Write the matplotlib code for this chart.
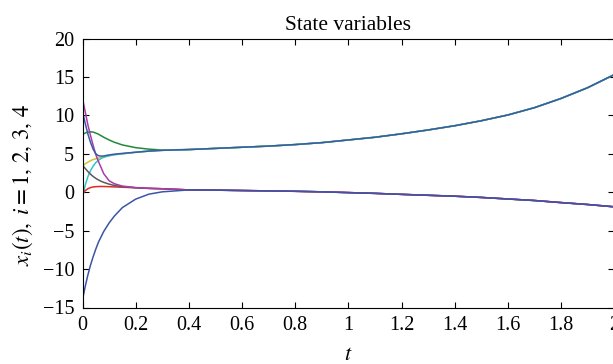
import numpy as np
import matplotlib
matplotlib.use("Agg")
import matplotlib.pyplot as plt

# time grids
t_early = [0, 0.01, 0.02, 0.03, 0.04, 0.05, 0.06, 0.07, 0.08, 0.10, 0.12, 0.15, 0.20, 0.25, 0.30]
t_tail = [0.4, 0.5, 0.6, 0.7, 0.8, 0.9, 1.0, 1.1, 1.2, 1.3, 1.4, 1.5, 1.6, 1.7, 1.8, 1.9, 2.0]

# converged tails
upper_tail = [5.55, 5.7, 5.85, 6.0, 6.2, 6.45, 6.8, 7.15, 7.6, 8.1, 8.65, 9.3, 10.05, 11.0, 12.2, 13.6, 15.3]
lower_tail = [0.3, 0.27, 0.22, 0.17, 0.12, 0.05, -0.05, -0.15, -0.28, -0.4, -0.52, -0.68, -0.88, -1.08, -1.35, -1.6, -1.9]

# early transients
green_early = [7.5, 7.7, 7.82, 7.86, 7.82, 7.7, 7.55, 7.35, 7.15, 6.8, 6.5, 6.15, 5.8, 5.6, 5.5]
yellow_early = [3.4, 3.7, 3.9, 4.1, 4.25, 4.35, 4.45, 4.55, 4.62, 4.75, 4.88, 5.0, 5.2, 5.35, 5.45]
cyan_early = [-0.6, 0.9, 2.0, 2.8, 3.4, 3.85, 4.15, 4.4, 4.55, 4.75, 4.88, 5.0, 5.2, 5.35, 5.45]
blue_u_early = [10.5, 9.0, 7.6, 6.5, 5.6, 5.0, 4.75, 4.7, 4.72, 4.85, 4.95, 5.05, 5.2, 5.35, 5.45]

red_early = [-0.3, 0.2, 0.45, 0.6, 0.68, 0.72, 0.74, 0.75, 0.74, 0.72, 0.69, 0.65, 0.58, 0.5, 0.45]
gray_early = [3.5, 3.1, 2.7, 2.35, 2.05, 1.8, 1.6, 1.42, 1.28, 1.05, 0.88, 0.72, 0.58, 0.5, 0.45]
magenta_early = [12.2, 10.5, 8.8, 7.4, 6.1, 4.9, 4.0, 3.2, 2.4, 1.5, 1.1, 0.8, 0.6, 0.5, 0.45]
blue_l_early = [-14.0, -12.3, -10.8, -9.5, -8.4, -7.4, -6.5, -5.8, -5.1, -4.0, -3.1, -2.0, -0.9, -0.25, 0.05]

t_all = t_early + t_tail
series = [
    (green_early + upper_tail, "#1f8a3c"),
    (yellow_early + upper_tail, "#c8c832"),
    (cyan_early + upper_tail, "#33c4c4"),
    (red_early + lower_tail, "#e02828"),
    (gray_early + lower_tail, "#5a5a5a"),
    (magenta_early + lower_tail, "#a83ca8"),
    (blue_l_early + lower_tail, "#3a55a8"),
    (blue_u_early + upper_tail, "#3a5aa8"),
]

plt.rcParams['font.family'] = ['Liberation Serif', 'DejaVu Serif']
plt.rcParams['mathtext.fontset'] = 'stix'

fig = plt.figure(figsize=(6.13, 3.64), dpi=100)
ax = fig.add_axes([82.5 / 613, 1 - 307.5 / 364, (613 - 82.5) / 613 + 0.002, (307.5 - 38.5) / 364])

for vals, c in series:
    ax.plot(t_all, vals, color=c, lw=1.1)

ax.set_xlim(0, 2)
ax.set_ylim(-15, 20)
ax.set_xticks([0, 0.2, 0.4, 0.6, 0.8, 1, 1.2, 1.4, 1.6, 1.8, 2])
ax.set_xticklabels(["0", "0.2", "0.4", "0.6", "0.8", "1", "1.2", "1.4", "1.6", "1.8", "2"])
ax.set_yticks([-15, -10, -5, 0, 5, 10, 15, 20])
ax.set_yticklabels(["\u221215", "\u221210", "\u22125", "0", "5", "10", "15", "20"])
ax.tick_params(direction='in', top=True, right=True, labelsize=14.5, length=4, width=0.8)
ax.tick_params(axis='x', pad=6)
ax.tick_params(axis='y', pad=6)
for s in ax.spines.values():
    s.set_linewidth(0.8)

ax.set_title("State variables", fontsize=15.5, pad=6)
ax.set_xlabel("$t$", fontsize=16, labelpad=8)
ax.set_ylabel("$x_i(t),\\; i = 1,\\,2,\\,3,\\,4$", fontsize=16.5)
ax.yaxis.set_label_coords(-0.089, 0.455)

fig.savefig("out.png", dpi=100)
